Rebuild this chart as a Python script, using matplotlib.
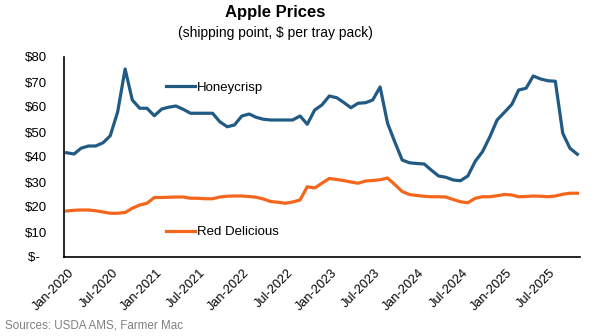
import matplotlib
matplotlib.use('Agg')
import matplotlib.pyplot as plt
import matplotlib.dates as mdates
import matplotlib.transforms as mtransforms
import numpy as np
import pandas as pd

plt.rcParams['font.family'] = ['Liberation Sans', 'DejaVu Sans']

# monthly shipping point prices, Jan 2020 - Nov 2025 ($ per tray pack)
months = pd.date_range('2020-01-01', periods=71, freq='MS')

honeycrisp = [
    41.7, 41.2, 43.5, 44.4, 44.4, 45.7, 48.5, 58.1, 75.2, 62.8, 59.5, 59.5,
    56.5, 59.2, 59.9, 60.4, 59.1, 57.5, 57.5, 57.5, 57.5, 54.1, 52.1, 52.8,
    56.4, 57.2, 55.9, 55.1, 54.8, 54.8, 54.8, 54.8, 56.4, 53.1, 58.8, 60.8,
    64.4, 63.7, 61.9, 59.7, 61.5, 61.7, 62.8, 68.0, 53.5, 46.1, 38.8, 37.7,
    37.4, 37.2, 34.8, 32.4, 31.9, 30.8, 30.5, 32.4, 38.3, 42.1, 48.1, 54.8,
    57.9, 61.1, 66.8, 67.5, 72.4, 71.2, 70.5, 70.3, 49.5, 43.5, 41.1,
]

red_delicious = [
    18.4, 18.7, 18.8, 18.8, 18.5, 18.0, 17.5, 17.5, 17.8, 19.5, 20.8, 21.5,
    23.8, 23.8, 23.9, 24.0, 24.0, 23.5, 23.5, 23.3, 23.3, 24.0, 24.3, 24.4,
    24.4, 24.2, 23.9, 23.2, 22.2, 21.9, 21.5, 22.0, 22.8, 28.1, 27.6, 29.5,
    31.4, 31.0, 30.6, 30.0, 29.5, 30.4, 30.6, 30.9, 31.6, 29.0, 26.2, 25.0,
    24.6, 24.3, 24.1, 24.1, 24.0, 23.0, 22.1, 21.7, 23.5, 24.1, 24.1, 24.5,
    25.0, 24.8, 24.1, 24.2, 24.4, 24.3, 24.1, 24.4, 25.1, 25.5, 25.5,
]

y_ticks = [0, 10, 20, 30, 40, 50, 60, 70, 80]
y_labels = ['$-  ', '$10', '$20', '$30', '$40', '$50', '$60', '$70', '$80']

blue = '#215a82'
orange = '#f4661b'

fig = plt.figure(figsize=(6.11, 3.36), dpi=100)
ax = fig.add_axes([64 / 611, 1 - 257 / 336, 516 / 611, 200 / 336])

l1, = ax.plot(months, honeycrisp, color=blue, linewidth=2.3, solid_joinstyle='round')
l2, = ax.plot(months, red_delicious, color=orange, linewidth=2.3, solid_joinstyle='round')

ax.set_ylim(0, 80)
ax.set_yticks(y_ticks)
ax.set_yticklabels(y_labels, fontsize=9.5)
ax.set_xlim(months[0] - pd.Timedelta(days=11), months[-1] + pd.Timedelta(days=11))

ax.xaxis.set_major_locator(mdates.MonthLocator(bymonth=[1, 7]))
ax.xaxis.set_major_formatter(mdates.DateFormatter('%b-%Y'))
ax.tick_params(axis='both', length=0)
ax.tick_params(axis='y', pad=12)
ax.tick_params(axis='x', pad=10)
offset = mtransforms.ScaledTranslation(6 / 100, 0, fig.dpi_scale_trans)
for lbl in ax.get_xticklabels():
    lbl.set_rotation(45)
    lbl.set_rotation_mode('anchor')
    lbl.set_ha('right')
    lbl.set_va('center')
    lbl.set_fontsize(9.2)
    lbl.set_transform(lbl.get_transform() + offset)

for side in ['top', 'right']:
    ax.spines[side].set_visible(False)
for side in ['left', 'bottom']:
    ax.spines[side].set_color('black')
    ax.spines[side].set_linewidth(1.2)

leg1 = ax.legend([l1], ['Honeycrisp'], loc='center left',
                 bbox_to_anchor=(166 / 611, 1 - 88 / 336), bbox_transform=fig.transFigure,
                 frameon=False, fontsize=9.5, handlelength=2.2, handletextpad=0.15,
                 borderpad=0, borderaxespad=0)
ax.add_artist(leg1)
ax.legend([l2], ['Red Delicious'], loc='center left',
          bbox_to_anchor=(166 / 611, 1 - 232 / 336), bbox_transform=fig.transFigure,
          frameon=False, fontsize=9.5, handlelength=2.2, handletextpad=0.15,
          borderpad=0, borderaxespad=0)

fig.text(0.45, 1 - 12 / 336, 'Apple Prices', ha='center', va='center',
         fontsize=12, fontweight='bold')
fig.text(0.45, 1 - 33 / 336, '(shipping point, $ per tray pack)', ha='center', va='center',
         fontsize=10)
fig.text(5 / 611, 1 - 326 / 336, 'Sources: USDA AMS, Farmer Mac', ha='left', va='center',
         fontsize=8.4, color='#808080')

fig.savefig('out.png', dpi=100)
